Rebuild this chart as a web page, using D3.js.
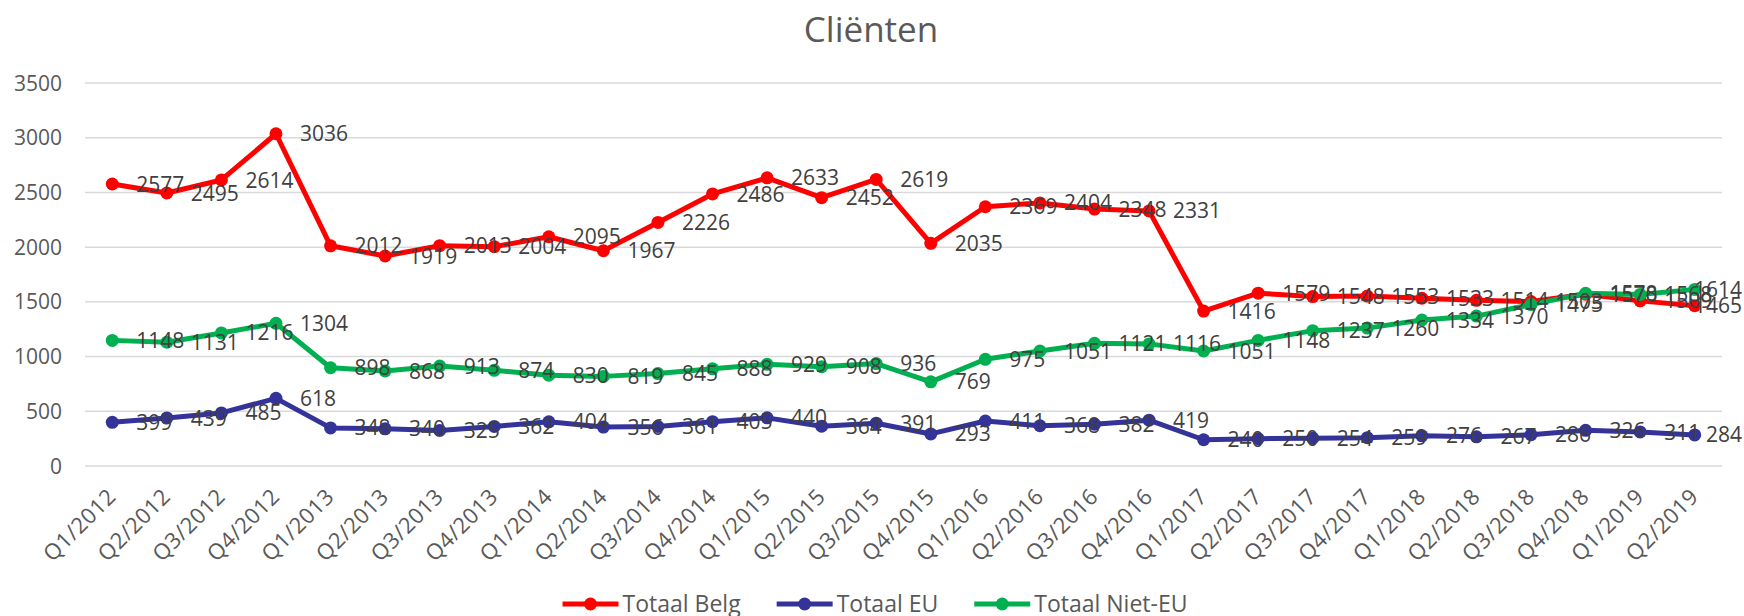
<!DOCTYPE html>
<html>
<head>
<meta charset="utf-8">
<script src="https://cdn.jsdelivr.net/npm/d3@7"></script>
<style>
  body { margin: 0; background: #fff; }
  svg text { font-family: "Open Sans", sans-serif; }
</style>
</head>
<body>
<svg id="chart" width="1744" height="616"></svg>
<script>
var quarters = ["Q1/2012","Q2/2012","Q3/2012","Q4/2012","Q1/2013","Q2/2013","Q3/2013","Q4/2013",
  "Q1/2014","Q2/2014","Q3/2014","Q4/2014","Q1/2015","Q2/2015","Q3/2015","Q4/2015",
  "Q1/2016","Q2/2016","Q3/2016","Q4/2016","Q1/2017","Q2/2017","Q3/2017","Q4/2017",
  "Q1/2018","Q2/2018","Q3/2018","Q4/2018","Q1/2019","Q2/2019"];

var totaalBelg = [2577, 2495, 2614, 3036, 2012, 1919, 2013, 2004, 2095, 1967, 2226, 2486, 2633, 2452, 2619,
  2035, 2369, 2404, 2348, 2331, 1416, 1579, 1548, 1553, 1533, 1514, 1503, 1570, 1509, 1465];
var totaalEU = [399, 439, 485, 618, 348, 340, 325, 362, 404, 356, 361, 405, 440, 364, 391,
  293, 411, 368, 382, 419, 240, 250, 254, 259, 276, 267, 286, 326, 311, 284];
var totaalNietEU = [1148, 1131, 1216, 1304, 898, 868, 913, 874, 830, 819, 845, 888, 929, 908, 936,
  769, 975, 1051, 1121, 1116, 1051, 1148, 1237, 1260, 1334, 1370, 1475, 1578, 1568, 1614];

var yTicks = [0, 500, 1000, 1500, 2000, 2500, 3000, 3500];

var series = [
  {name: "Totaal Belg", values: totaalBelg, color: "#ff0000"},
  {name: "Totaal EU", values: totaalEU, color: "#333399"},
  {name: "Totaal Niet-EU", values: totaalNietEU, color: "#00b050"}
];

var svg = d3.select("#chart");
var plot = {left: 85, right: 1722, top: 83, bottom: 466};
var maxRight = 1742; // labels get pushed back inside, like excel does

var x = d3.scaleBand().domain(quarters).range([plot.left, plot.right]);
var y = d3.scaleLinear().domain([0, 3500]).range([plot.bottom, plot.top]);
function cx(q) { return x(q) + x.bandwidth() / 2; }

// title
svg.append("text")
  .attr("x", 871).attr("y", 42)
  .attr("text-anchor", "middle")
  .style("font-size", "35px").style("fill", "#595959")
  .text("Cliënten");

// gridlines + y labels
var grid = svg.append("g");
yTicks.forEach(function(t) {
  grid.append("line")
    .attr("x1", plot.left).attr("x2", plot.right)
    .attr("y1", y(t)).attr("y2", y(t))
    .attr("stroke", "#d9d9d9").attr("stroke-width", 1.5);
  grid.append("text")
    .attr("x", 62).attr("y", y(t))
    .attr("dy", "0.36em")
    .attr("text-anchor", "end")
    .style("font-size", "21px").style("fill", "#595959")
    .text(t);
});

// x labels, rotated
svg.append("g").selectAll("text")
  .data(quarters)
  .enter().append("text")
  .attr("transform", function(d) { return "translate(" + (cx(d) + 5) + ",498) rotate(-45)"; })
  .attr("text-anchor", "end")
  .style("font-size", "22px").style("letter-spacing", "0.5px").style("fill", "#595959")
  .text(function(d) { return d; });

// lines and markers
var line = d3.line()
  .x(function(d, i) { return cx(quarters[i]); })
  .y(function(d) { return y(d); });

series.forEach(function(s) {
  var g = svg.append("g");
  g.append("path")
    .attr("d", line(s.values))
    .attr("fill", "none")
    .attr("stroke", s.color).attr("stroke-width", 5)
    .attr("stroke-linejoin", "round");
  g.selectAll("circle")
    .data(s.values)
    .enter().append("circle")
    .attr("cx", function(d, i) { return cx(quarters[i]); })
    .attr("cy", function(d) { return y(d); })
    .attr("r", 6.5)
    .attr("fill", s.color);
});

// data labels on top of everything
series.forEach(function(s) {
  svg.append("g").selectAll("text")
    .data(s.values)
    .enter().append("text")
    .attr("y", function(d) { return y(d); })
    .attr("dy", "0.36em")
    .style("font-size", "21px").style("fill", "#404040")
    .text(function(d) { return d; })
    .attr("x", function(d, i) {
      var w = this.getComputedTextLength();
      return Math.min(cx(quarters[i]) + 24, maxRight - w);
    });
});

// legend
var legend = svg.append("g");
var lx = 0;
series.forEach(function(s, i) {
  var item = legend.append("g").attr("transform", "translate(" + lx + ",0)");
  item.append("line")
    .attr("x1", 0).attr("x2", 56).attr("y1", 0).attr("y2", 0)
    .attr("stroke", s.color).attr("stroke-width", 5);
  item.append("circle").attr("cx", 28).attr("cy", 0).attr("r", 6.5).attr("fill", s.color);
  var t = item.append("text")
    .attr("x", 60).attr("y", 0).attr("dy", "0.36em")
    .style("font-size", "23px").style("fill", "#595959")
    .text(s.name);
  lx += 60 + t.node().getComputedTextLength() + 36;
});
var legendW = lx - 36;
legend.attr("transform", "translate(" + (875 - legendW / 2) + ",604)");
</script>
</body>
</html>
